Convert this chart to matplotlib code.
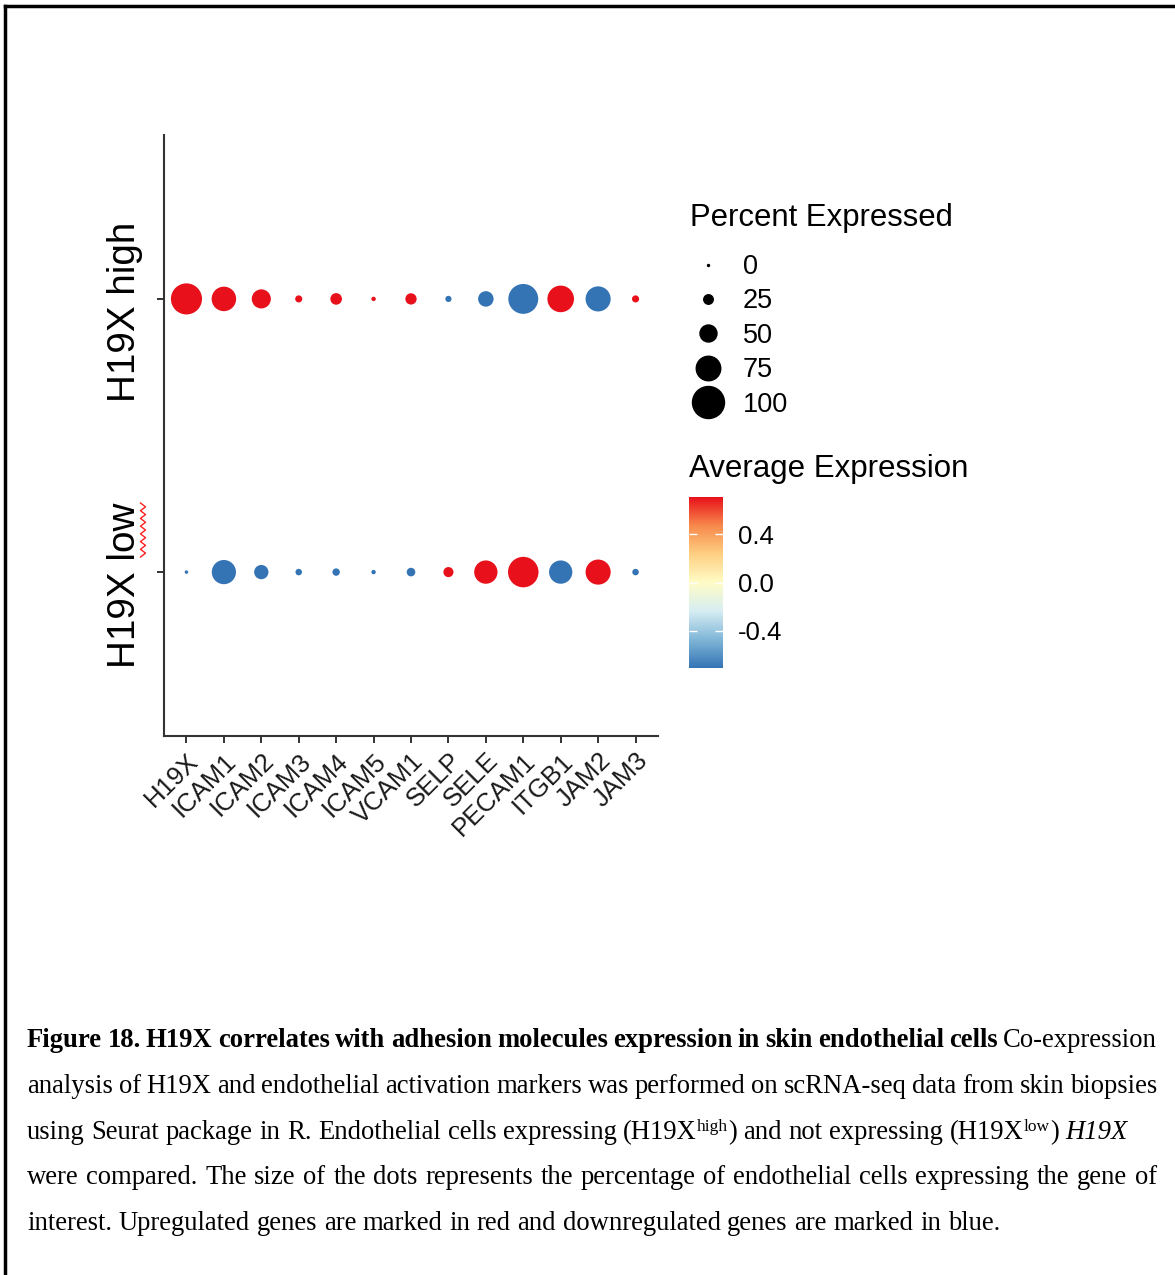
import numpy as np
import matplotlib
matplotlib.use("Agg")
import matplotlib.pyplot as plt
from matplotlib.colors import LinearSegmentedColormap, Normalize
from matplotlib.cm import ScalarMappable
from matplotlib.lines import Line2D
from matplotlib.transforms import ScaledTranslation, blended_transform_factory

genes = ["H19X", "ICAM1", "ICAM2", "ICAM3", "ICAM4", "ICAM5", "VCAM1",
         "SELP", "SELE", "PECAM1", "ITGB1", "JAM2", "JAM3"]
groups = ["H19X low", "H19X high"]
# percent of cells expressing, per group
pct_high = [97, 75, 57, 17, 32, 8, 31, 14, 45, 93, 82, 77, 17]
pct_low = [5, 74, 41, 15, 18, 8, 22, 27, 71, 95, 71, 77, 15]
# scaled average expression, per group
avg_high = [0.71, 0.71, 0.71, 0.71, 0.71, 0.71, 0.71, -0.71, -0.71, -0.71, 0.71, -0.71, 0.71]
avg_low = [-0.71, -0.71, -0.71, -0.71, -0.71, -0.71, -0.71, 0.71, 0.71, 0.71, -0.71, 0.71, -0.71]
legend_pct = [0, 25, 50, 75, 100]
cbar_ticks = [-0.4, 0.0, 0.4]
cbar_labels = ["-0.4", "0.0", "0.4"]

plt.rcParams["font.family"] = ["Liberation Sans", "DejaVu Sans"]

W, H = 1175, 1275
fig = plt.figure(figsize=(W / 100, H / 100), dpi=100)


def fx(px):
    return px / W


def fy(py):
    return 1 - py / H


def dot_size(pct):
    # radius scale: diameter in pixels grows linearly with percent
    d = 2 + 0.3 * np.asarray(pct, dtype=float)
    return (d * 0.72) ** 2


cmap = LinearSegmentedColormap.from_list(
    "avg", ["#3474b5", "#80b6d7", "#d6edf3", "#fffcc6", "#fecf82", "#f7894c", "#e8101a"])
norm = Normalize(-0.7071, 0.7071)

ax = fig.add_axes([fx(164), fy(736), fx(658) - fx(164), fy(135) - fy(736)])
x = np.arange(1, len(genes) + 1)
ax.scatter(x, np.full(len(x), 2), s=dot_size(pct_high), c=avg_high, cmap=cmap, norm=norm,
           edgecolors="none", zorder=3)
ax.scatter(x, np.full(len(x), 1), s=dot_size(pct_low), c=avg_low, cmap=cmap, norm=norm,
           edgecolors="none", zorder=3)
ax.set_xlim(0.4, len(genes) + 0.6)
ax.set_ylim(0.4, 2.6)
ax.set_xticks(x)
ax.set_xticklabels(genes, rotation=45, ha="right", va="top", rotation_mode="anchor",
                   fontsize=18.5, color="#1a1a1a")
ax.set_yticks([1, 2])
ax.set_yticklabels([])
# group labels sit a little below their ticks, as in the source
ylab_tr = blended_transform_factory(fig.transFigure, ax.transData) + \
    ScaledTranslation(0, -0.13, fig.dpi_scale_trans)
for i, g in enumerate(groups):
    ax.text(fx(143), i + 1, g, rotation=90, ha="right", va="center", fontsize=27.8,
            transform=ylab_tr)
ax.tick_params(axis="both", length=5, width=1.4, color="#333333")
ax.tick_params(axis="x", pad=4)
for s in ["top", "right"]:
    ax.spines[s].set_visible(False)
for s in ["left", "bottom"]:
    ax.spines[s].set_linewidth(1.5)
    ax.spines[s].set_color("#333333")

# size legend
fig.text(fx(690), fy(218), "Percent Expressed", fontsize=22.4, va="center", ha="left")
handles = [Line2D([], [], ls="", marker="o", color="black",
                  markersize=np.sqrt(dot_size(p))) for p in legend_pct]
leg = fig.legend(handles, [str(p) for p in legend_pct],
                 loc="upper left", bbox_to_anchor=(fx(690), fy(254)), frameon=False,
                 fontsize=19.5, handlelength=1.35, handletextpad=0.6, labelspacing=0.31,
                 borderpad=0, borderaxespad=0)

# colour bar
cax = fig.add_axes([fx(689), fy(668), fx(723) - fx(689), fy(497) - fy(668)])
cb = fig.colorbar(ScalarMappable(norm=norm, cmap=cmap), cax=cax)
cb.outline.set_visible(False)
cb.set_ticks(cbar_ticks)
cb.set_ticklabels(cbar_labels)
cax.tick_params(direction="in", color="white", length=6, width=1, left=True,
                labelsize=18.5, pad=11)
fig.text(fx(689), fy(469), "Average Expression", fontsize=22.5, va="center", ha="left")

# red wavy spell-check underline beside "low"
zy = np.linspace(503, 557, 15)
zx = 143 + np.where(np.arange(15) % 2 == 0, -2.5, 2.5)
fig.add_artist(Line2D(fx(zx), fy(zy), color="#ff2020", lw=1, transform=fig.transFigure))

# page border
fig.add_artist(Line2D([fx(5), fx(5)], [fy(6), 0], color="black", lw=2.5, transform=fig.transFigure))
fig.add_artist(Line2D([fx(5), 1], [fy(6), fy(6)], color="black", lw=2.5, transform=fig.transFigure))

# caption
cap_size = 19.2
left, right = 27, 1157
renderer = fig.canvas.get_renderer()


def words(s, kind):
    return [[(w, kind)] for w in s.split()]


def sup_word(base, sup):
    return [[(base, "r"), (sup, "sup"), (")", "r")]]


def draw_line(line, base_y, justify):
    placed = []
    word_w = []
    for word in line:
        runs = []
        for text, kind in word:
            props = dict(fontsize=cap_size, family=["Liberation Serif", "DejaVu Serif"],
                         va="baseline", ha="left")
            dy = 0
            if kind == "b":
                props["weight"] = "bold"
            elif kind == "i":
                props["style"] = "italic"
            elif kind == "sup":
                props["fontsize"] = cap_size * 0.65
                dy = 8
            t = fig.text(0, 0, text, **props)
            w = t.get_window_extent(renderer).width
            runs.append((t, w, dy))
        placed.append(runs)
        word_w.append(sum(r[1] for r in runs))
    space = cap_size * 100 / 72 * 0.25
    if justify and len(line) > 1:
        space = (right - left - sum(word_w)) / (len(line) - 1)
    xp = left
    for runs in placed:
        for t, w, dy in runs:
            t.set_position((fx(xp), fy(base_y - dy)))
            xp += w
        xp += space


caption = [
    (words("Figure 18. H19X correlates with adhesion molecules expression in skin endothelial cells", "b")
     + words("Co-expression", "r"), 1047, True),
    (words("analysis of H19X and endothelial activation markers was performed on scRNA-seq data from skin biopsies", "r"),
     1093, True),
    (words("using Seurat package in R. Endothelial cells expressing", "r") + sup_word("(H19X", "high")
     + words("and not expressing", "r") + sup_word("(H19X", "low") + words("H19X", "i"), 1139, False),
    (words("were compared. The size of the dots represents the percentage of endothelial cells expressing the gene of", "r"),
     1184, True),
    (words("interest. Upregulated genes are marked in red and downregulated genes are marked in blue.", "r"),
     1230, False),
]
for line, by, just in caption:
    draw_line(line, by, just)

fig.savefig("out.png", dpi=100)
